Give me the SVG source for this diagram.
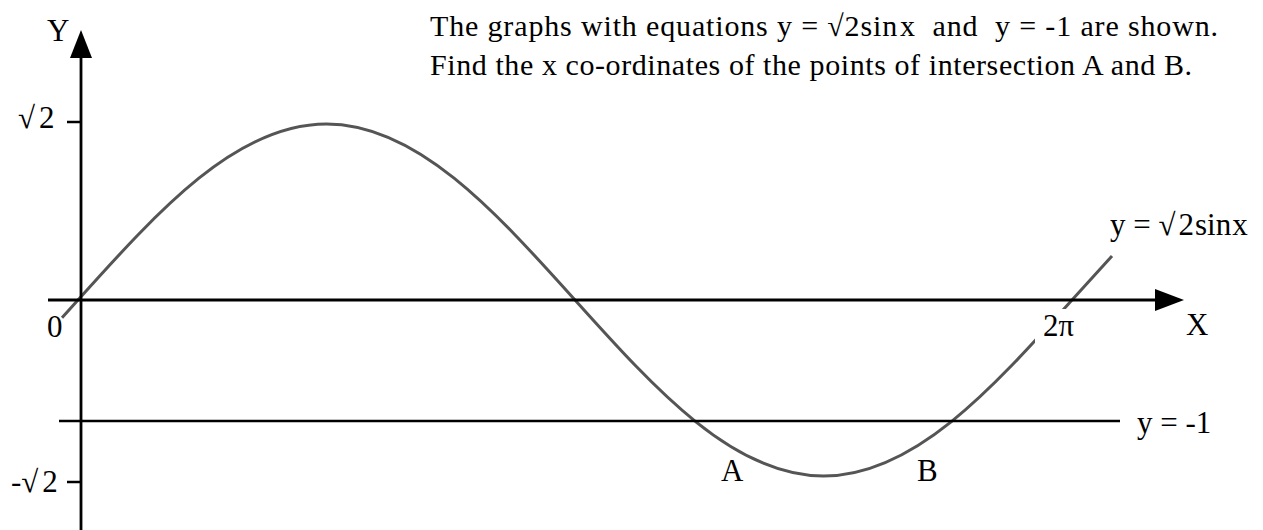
<svg xmlns="http://www.w3.org/2000/svg" width="1263" height="530" viewBox="0 0 1263 530">
<style>
text { font-family: "Liberation Serif", "Times New Roman", serif; fill: #000; white-space: pre; }
.lbl { font-size: 31px; }
.q { font-size: 30px; }
.ax { stroke: #000; stroke-width: 2.8; fill: none; }
.tick { stroke: #000; stroke-width: 2.5; }
.curve { stroke: #555; stroke-width: 3; fill: none; }
</style>
<rect width="1263" height="530" fill="#fff"/>
<g id="curve">
<path class="curve" d="M62,317.8 L78,300 C159.05,209.84 236.57,124 326.5,124 C416.43,124 493.95,209.84 575,300 C656.05,390.16 733.57,476 823.5,476 C913.43,476 990.95,390.16 1072,300 L1112,256"/>
</g>
<g id="axes">
<line class="ax" x1="81" y1="56" x2="81" y2="530"/>
<polygon points="81,30 70,58 92,58" fill="#000"/>
<line class="ax" x1="48" y1="300" x2="1157" y2="300"/>
<polygon points="1184,300 1155,289 1155,311" fill="#000"/>
<line class="ax" x1="59" y1="421" x2="1120" y2="421" style="stroke-width:2.5"/>
<line class="tick" x1="67" y1="122" x2="81" y2="122"/>
<line class="tick" x1="67" y1="482" x2="81" y2="482"/>
</g>
<g id="labels">
<text class="lbl" x="47" y="41">Y</text>
<text class="lbl" x="18" y="128">√<tspan dx="4">2</tspan></text>
<text class="lbl" x="47" y="337">0</text>
<text class="lbl" x="11" y="492">-√<tspan dx="4">2</tspan></text>
<rect x="1035" y="309" width="42" height="36" fill="#fff"/>
<text class="lbl" x="1043" y="336">2π</text>
<text class="lbl" x="1186" y="335">X</text>
<text class="lbl" x="1110" y="235">y = √<tspan dx="3">2</tspan><tspan dx="1">sin</tspan><tspan dx="1">x</tspan></text>
<text class="lbl" x="1137" y="433">y = -1</text>
<text class="lbl" x="721" y="481">A</text>
<text class="lbl" x="917" y="481">B</text>
</g>
<g id="question">
<text class="q" x="430" y="36" textLength="788" lengthAdjust="spacing">The graphs with equations y = √2sin<tspan dx="2">x</tspan>  and  y = -1 are shown.</text>
<text class="q" x="430" y="75" textLength="762" lengthAdjust="spacing">Find the x co-ordinates of the points of intersection A and B.</text>
</g>
</svg>
